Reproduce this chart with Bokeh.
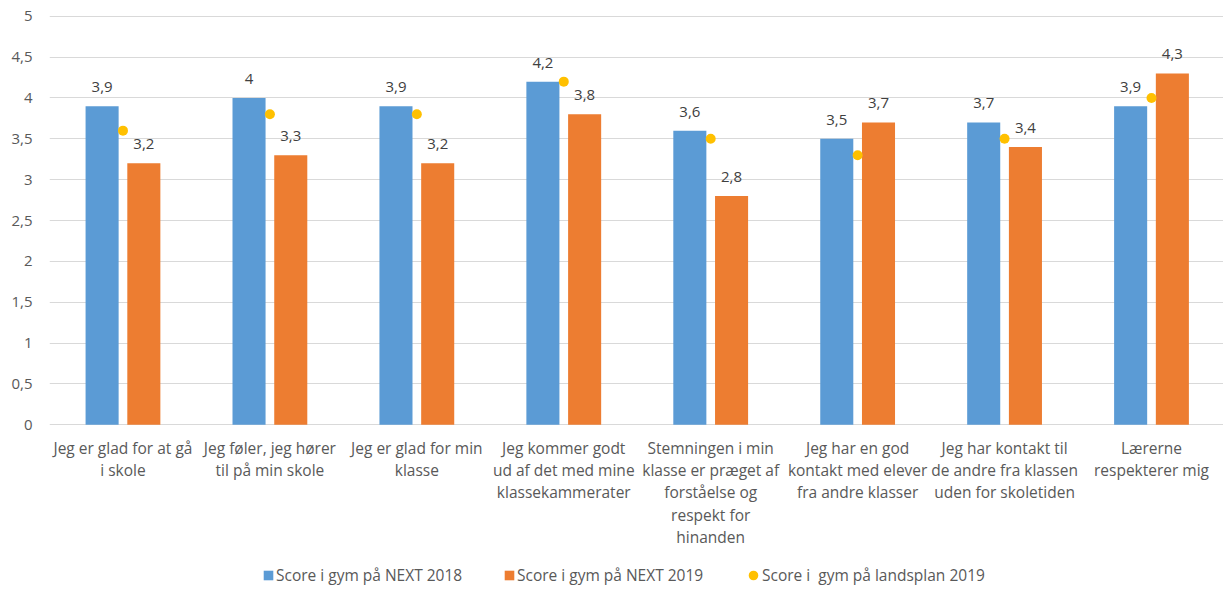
from bokeh.plotting import figure
from bokeh.layouts import column
from bokeh.models import Range1d, FixedTicker, ColumnDataSource, LabelSet, Legend, LegendItem
from bokeh.transform import dodge
from bokeh.core.properties import value
from bokeh.embed import file_html
from bokeh.resources import INLINE

# ---------------- data ----------------
categories = [
    "Jeg er glad for at gå\ni skole",
    "Jeg føler, jeg hører\ntil på min skole",
    "Jeg er glad for min\nklasse",
    "Jeg kommer godt\nud af det med mine\nklassekammerater",
    "Stemningen i min\nklasse er præget af\nforståelse og\nrespekt for\nhinanden",
    "Jeg har en god\nkontakt med elever\nfra andre klasser",
    "Jeg har kontakt til\nde andre fra klassen\nuden for skoletiden",
    "Lærerne\nrespekterer mig",
]
next_2018 = [3.9, 4.0, 3.9, 4.2, 3.6, 3.5, 3.7, 3.9]
next_2019 = [3.2, 3.3, 3.2, 3.8, 2.8, 3.7, 3.4, 4.3]
landsplan_2019 = [3.6, 3.8, 3.8, 4.2, 3.5, 3.3, 3.5, 4.0]
series_names = ["Score i gym på NEXT 2018", "Score i gym på NEXT 2019", "Score i  gym på landsplan 2019"]
y_ticks = [0, 0.5, 1, 1.5, 2, 2.5, 3, 3.5, 4, 4.5, 5]

# ---------------- styling ----------------
FONT = "Open Sans"
BLUE, ORANGE, YELLOW = "#5B9BD5", "#ED7D31", "#FFC000"
GRID = "#D9D9D9"
TXT = "#595959"
LBL = "#404040"
FS = "15.5px"


def fmt(v):
    return f"{v:g}".replace(".", ",")


xs = list(range(len(categories)))
src = ColumnDataSource(dict(
    x=xs,
    a=next_2018,
    b=next_2019,
    c=landsplan_2019,
    at=[fmt(v) for v in next_2018],
    bt=[fmt(v) for v in next_2019],
))

W = 1223
H_MAIN = 555
H_LEG = 34

p = figure(width=W, height=H_MAIN, output_backend="svg", toolbar_location=None,
           x_range=Range1d(-0.5, 7.49), y_range=Range1d(-0.01, 5.01),
           min_border_left=49, min_border_right=0, min_border_top=15,
           min_border_bottom=H_MAIN - 15 - 410)
p.outline_line_color = None
p.background_fill_color = "white"
p.border_fill_color = "white"

OFF = 0.142
BW = 0.225
r_a = p.vbar(x=dodge("x", -OFF), top="a", bottom=0, width=BW, source=src,
             fill_color=BLUE, line_color=None)
r_b = p.vbar(x=dodge("x", OFF), top="b", bottom=0, width=BW, source=src,
             fill_color=ORANGE, line_color=None)
r_c = p.scatter(x="x", y="c", source=src, size=10, marker="circle",
                fill_color=YELLOW, line_color=None)

for col, off in (("a", -OFF), ("b", OFF)):
    p.add_layout(LabelSet(x=dodge("x", off), y=col, text=col + "t", source=src,
                          text_align="center", text_baseline="alphabetic", y_offset=14,
                          text_font=value(FONT), text_font_size="15px", text_color=LBL))

# axes
p.yaxis.ticker = FixedTicker(ticks=y_ticks)
p.yaxis.major_label_overrides = {t: fmt(t) for t in y_ticks}
p.xaxis.ticker = FixedTicker(ticks=xs)
p.xaxis.major_label_overrides = {i: c for i, c in zip(xs, categories)}
for ax in (p.xaxis[0], p.yaxis[0]):
    ax.axis_line_color = None
    ax.major_tick_line_color = None
    ax.minor_tick_line_color = None
    ax.major_tick_out = 0
    ax.major_tick_in = 0
    ax.major_label_text_font = FONT
    ax.major_label_text_font_size = FS
    ax.major_label_text_color = TXT
p.yaxis.major_label_text_font_size = "15px"
p.xaxis.major_label_text_line_height = 1.02
p.yaxis.major_label_standoff = 17
p.xaxis.major_label_standoff = 11

p.xgrid.grid_line_color = None
p.ygrid.ticker = FixedTicker(ticks=y_ticks)
p.ygrid.grid_line_color = GRID
p.ygrid.grid_line_width = 1

# ---------------- legend strip ----------------
lf = figure(width=W, height=H_LEG, output_backend="svg", toolbar_location=None,
            x_range=Range1d(0, 1), y_range=Range1d(0, 1),
            x_axis_location=None, y_axis_location=None,
            min_border_left=0, min_border_right=0, min_border_top=0, min_border_bottom=0)
lf.grid.visible = False
lf.outline_line_color = None
lf.background_fill_color = "white"
lf.border_fill_color = "white"

lsrc = ColumnDataSource(dict(x=[5], y=[5]))
d_a = lf.vbar(x="x", top="y", width=0.1, source=lsrc, fill_color=BLUE, line_color=None)
d_b = lf.vbar(x="x", top="y", width=0.1, source=lsrc, fill_color=ORANGE, line_color=None)
d_c = lf.ellipse(x="x", y="y", width=10, height=10, width_units="screen",
                 height_units="screen", source=lsrc, fill_color=YELLOW, line_color=None)


def make_legend(name, rend, loc, standoff):
    lg = Legend(items=[LegendItem(label=name, renderers=[rend])], location=loc,
                orientation="horizontal", glyph_width=12, glyph_height=12,
                label_standoff=standoff, padding=0, margin=0, spacing=0,
                label_text_font=FONT, label_text_font_size=FS, label_text_color=TXT,
                label_height=16, border_line_color=None, background_fill_alpha=0)
    lf.add_layout(lg, "center")


make_legend(series_names[0], d_a, (213, 3), 2)
make_legend(series_names[1], d_b, (454, 3), 2)
make_legend(series_names[2], d_c, (698, 3), 3)

layout = column(p, lf, spacing=0)
open("out.html", "w").write(file_html(layout, INLINE))
